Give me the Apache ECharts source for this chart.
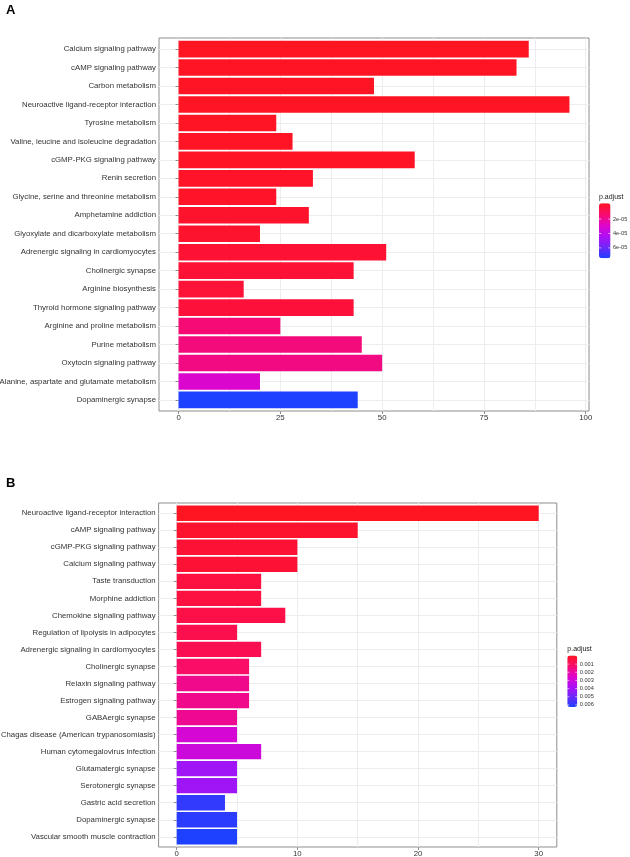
<!DOCTYPE html>
<html><head><meta charset="utf-8">
<script src="https://cdn.jsdelivr.net/npm/echarts@6/dist/echarts.min.js"></script>
<style>html,body{margin:0;padding:0;background:#fff}#c{width:630px;height:857px}</style>
</head><body><div id="c"></div>
<script>
// ---------- Panel A data ----------
const categoriesA = ['Calcium signaling pathway','cAMP signaling pathway','Carbon metabolism','Neuroactive ligand-receptor interaction','Tyrosine metabolism','Valine, leucine and isoleucine degradation','cGMP-PKG signaling pathway','Renin secretion','Glycine, serine and threonine metabolism','Amphetamine addiction','Glyoxylate and dicarboxylate metabolism','Adrenergic signaling in cardiomyocytes','Cholinergic synapse','Arginine biosynthesis','Thyroid hormone signaling pathway','Arginine and proline metabolism','Purine metabolism','Oxytocin signaling pathway','Alanine, aspartate and glutamate metabolism','Dopaminergic synapse'];
const countsA = [86,83,48,96,24,28,58,33,24,32,20,51,43,16,43,25,45,50,20,44];
const pAdjustA = [1.0e-7,2.0e-7,3.0e-7,3.0e-7,5.0e-7,6.0e-7,8.0e-7,1.2e-6,1.5e-6,2.0e-6,2.5e-6,3.5e-6,4.0e-6,4.5e-6,5.0e-6,1.6e-5,1.7e-5,1.8e-5,3.1e-5,7.25e-5];
const xTicksA = [0,25,50,75,100];
const xMinorA = [12.5,37.5,62.5,87.5];
const legendValuesA = [2e-5,4e-5,6e-5];
const legendLabelsA = ['2e-05','4e-05','6e-05'];

// ---------- Panel B data ----------
const categoriesB = ['Neuroactive ligand-receptor interaction','cAMP signaling pathway','cGMP-PKG signaling pathway','Calcium signaling pathway','Taste transduction','Morphine addiction','Chemokine signaling pathway','Regulation of lipolysis in adipocytes','Adrenergic signaling in cardiomyocytes','Cholinergic synapse','Relaxin signaling pathway','Estrogen signaling pathway','GABAergic synapse','Chagas disease (American trypanosomiasis)','Human cytomegalovirus infection','Glutamatergic synapse','Serotonergic synapse','Gastric acid secretion','Dopaminergic synapse','Vascular smooth muscle contraction'];
const countsB = [30,15,10,10,7,7,9,5,7,6,6,6,5,5,7,5,5,4,5,5];
const pAdjustB = [0.0001,0.0003,0.0004,0.0004,0.0006,0.0006,0.0007,0.0008,0.0009,0.0012,0.0017,0.0017,0.0018,0.0028,0.0030,0.0040,0.0040,0.0058,0.0059,0.0061];
const xTicksB = [0,10,20,30];
const xMinorB = [5,15,25];
const legendValuesB = [0.001,0.002,0.003,0.004,0.005,0.006];
const legendLabelsB = ['0.001','0.002','0.003','0.004','0.005','0.006'];

const colorStops = ['#FF1422','#F80C6C','#E005C8','#B00EF5','#6E28F8','#1E40FF'];
const FONT = '"Liberation Sans", Arial, sans-serif';

const chart = echarts.init(document.getElementById('c'), null, {renderer:'canvas'});

const option = {
  backgroundColor:'#fff',
  animation:false,
  grid:[], xAxis:[], yAxis:[], series:[], visualMap:[], graphic:[]
};

function addPanel(idx, cfg){
  const n = cfg.categories.length;
  const maxV = Math.max(...cfg.counts);
  const xmin = -0.05*maxV, xmax = maxV*1.05;
  option.grid.push({left:cfg.left, top:cfg.top, width:cfg.width, height:cfg.height,
    show:true, backgroundColor:'#fff', borderColor:'#8e8e8e', borderWidth:1, containLabel:false,
    outerBoundsMode:'none'});
  const yVals = cfg.categories.map((c,i)=>i+1);
  option.xAxis.push({type:'value', gridIndex:idx, min:xmin, max:xmax, position:'bottom',
    axisLine:{show:false},
    axisTick:{show:true, length:3, lineStyle:{color:'#8e8e8e'}, customValues:cfg.xTicks},
    axisLabel:{show:true, customValues:cfg.xTicks, margin:3, fontSize:7.8, color:'#333', fontFamily:FONT},
    splitLine:{show:false}});
  option.xAxis.push({type:'value', gridIndex:idx, min:xmin, max:xmax, position:'bottom',
    axisLine:{show:false}, axisLabel:{show:false},
    axisTick:{show:false, customValues:cfg.xTicks.concat(cfg.xMinor)},
    splitLine:{show:true, lineStyle:{color:'#ebedef', width:1}}});
  option.yAxis.push({type:'value', gridIndex:idx, min:0.4, max:n+0.6, inverse:true,
    axisLine:{show:false},
    axisTick:{show:true, length:3, lineStyle:{color:'#8e8e8e'}, customValues:yVals},
    axisLabel:{show:true, customValues:yVals, margin:3, fontSize:7.8, color:'#333', fontFamily:FONT,
      formatter:(v)=>cfg.categories[Math.round(v)-1]},
    splitLine:{show:true, lineStyle:{color:'#ebedef', width:1}}});
  const xi = idx*2;
  const data = cfg.counts.map((v,i)=>[v, i+1, cfg.p[i]]);
  option.series.push({type:'custom', xAxisIndex:xi, yAxisIndex:idx, data:data,
    encode:{x:0, y:1}, silent:true,
    renderItem:function(params, api){
      const v = api.value(0), k = api.value(1);
      const s = api.coord([0,k]);
      const e = api.coord([v,k]);
      const h = api.size([0,0.9])[1];
      return {type:'rect', shape:{x:s[0], y:s[1]-h/2, width:e[0]-s[0], height:h},
        style:{fill:api.visual('color')}};
    }});
  const minP = Math.min(...cfg.p), maxP = Math.max(...cfg.p);
  const L = cfg.legend;
  option.visualMap.push({type:'continuous', seriesIndex:idx, dimension:2, min:minP, max:maxP,
    inverse:true, orient:'vertical', left:L.x, top:L.y, itemWidth:L.w, itemHeight:L.h,
    padding:0, calculable:false, hoverLink:false, realtime:false,
    inRange:{color:colorStops}, textStyle:{color:'transparent', fontSize:1}});
  option.graphic.push({type:'text', left:L.x, top:L.y-10, silent:true,
    style:{text:'p.adjust', fontSize:7, fill:'#222', fontFamily:FONT}});
  const inset = L.h/40;
  cfg.legendValues.forEach((v,i)=>{
    const y = L.y + inset + (v-minP)/(maxP-minP)*(L.h-2*inset);
    option.graphic.push({type:'text', x:L.x+L.w+2.5, y:y, silent:true,
      style:{text:cfg.legendLabels[i], fontSize:5.6, fill:'#333', fontFamily:FONT, textVerticalAlign:'middle', verticalAlign:'middle'}});
    option.graphic.push({type:'line', silent:true, z:100, shape:{x1:L.x, y1:y, x2:L.x+L.w/5, y2:y}, style:{stroke:'#fff', lineWidth:0.6}});
    option.graphic.push({type:'line', silent:true, z:100, shape:{x1:L.x+L.w*4/5, y1:y, x2:L.x+L.w, y2:y}, style:{stroke:'#fff', lineWidth:0.6}});
  });
  option.graphic.push({type:'text', left:cfg.letter.x, top:cfg.letter.y, silent:true,
    style:{text:cfg.letter.t, fontSize:13, fontWeight:'bold', fill:'#000', fontFamily:FONT}});
}

addPanel(0, {categories:categoriesA, counts:countsA, p:pAdjustA, xTicks:xTicksA, xMinor:xMinorA,
  legendValues:legendValuesA, legendLabels:legendLabelsA,
  left:159, top:38, width:430, height:373,
  legend:{x:599, y:203.3, w:11.5, h:55}, letter:{t:'A', x:6, y:4}});
addPanel(1, {categories:categoriesB, counts:countsB, p:pAdjustB, xTicks:xTicksB, xMinor:xMinorB,
  legendValues:legendValuesB, legendLabels:legendLabelsB,
  left:158.6, top:503, width:398.2, height:344,
  legend:{x:567.3, y:655.5, w:10, h:51.5}, letter:{t:'B', x:6, y:477}});

chart.setOption(option);
</script></body></html>
